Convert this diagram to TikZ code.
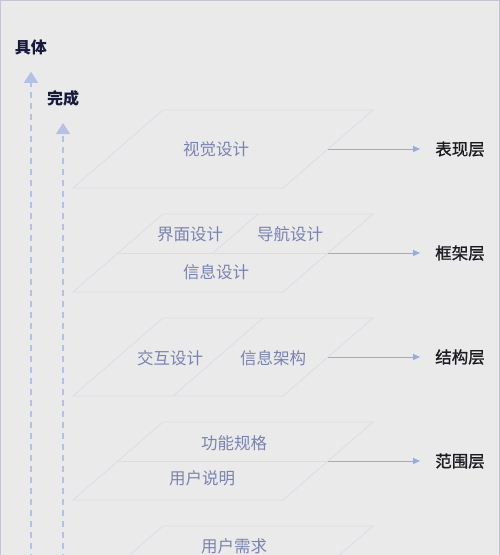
\documentclass[tikz,border=0pt]{standalone}
\usepackage{fontspec}
\newfontfamily\cjk{Noto Sans CJK SC}
\newfontfamily\cjkmid{Noto Sans CJK SC}[FakeBold=0.9]
\usetikzlibrary{arrows.meta,positioning}
\definecolor{bgcol}{RGB}{234,234,235}
\definecolor{framecol}{RGB}{196,196,212}
\definecolor{planecol}{RGB}{216,222,230}
\definecolor{itemcol}{RGB}{122,131,176}
\definecolor{layercol}{RGB}{26,26,32}
\definecolor{axiscol}{RGB}{24,26,60}
\definecolor{flowcol}{RGB}{150,172,218}
\definecolor{risecol}{RGB}{180,192,230}

\begin{document}
\begin{tikzpicture}[x=1pt,y=-1pt,node distance=132pt,on grid,
  every node/.style={font=\cjk\fontsize{16.5}{20}\selectfont,inner sep=0pt},
  plane/.style={draw=planecol,line width=0.8pt},
  item/.style={text=itemcol},
  layer/.style={text=layercol,font=\cjkmid\fontsize{16.5}{20}\selectfont},
  axis/.style={text=axiscol,font=\cjk\bfseries\fontsize{16}{19}\selectfont},
  flow/.style={draw=flowcol,line width=0.8pt,-{Triangle[length=7pt,width=6pt]},shorten >=15pt},
  rise/.style={draw=risecol,line width=1.4pt,dash pattern=on 6pt off 5pt,-{Triangle[length=11pt,width=14pt]},shorten >=17pt}]
\clip (0,0) rectangle (500,555);
\fill[bgcol] (0,0) rectangle (500,555);
\draw[framecol,line width=1pt] (0.5,0.5) rectangle (499.5,570);

% planes
\draw[plane] (163,110) -- (373,110) -- (283,188) -- (73,188) -- cycle;
\draw[plane] (163,214) -- (373,214) -- (283,292) -- (73,292) -- cycle;
\draw[plane] (118,253) -- (328,253);
\draw[plane] (258,214) -- (213,253);
\draw[plane] (163,318) -- (373,318) -- (283,396) -- (73,396) -- cycle;
\draw[plane] (263,318) -- (173,396);
\draw[plane] (163,422) -- (373,422) -- (283,500) -- (73,500) -- cycle;
\draw[plane] (118,461) -- (328,461);
\draw[plane] (163,526) -- (373,526) -- (283,604) -- (73,604) -- cycle;

% items
\node[item] (visual)   at (216,149) {视觉设计};
\node[item] (iface)    at (190,234) {界面设计};
\node[item] (navi)     at (290,234) {导航设计};
\node[item] (infod)    at (216,272) {信息设计};
\node[item] (interact) at (170,358) {交互设计};
\node[item] (infoa)    at (273,358) {信息架构};
\node[item] (funcs)    at (234,443) {功能规格};
\node[item] (userd)    at (202,478) {用户说明};
\node[item] (needs)    at (234,546) {用户需求};

% layers
\coordinate (e1) at (328,149);
\coordinate (e2) at (328,253);
\coordinate (e3) at (328,357);
\coordinate (e4) at (328,461);
\node[layer] (present)   at (460,149) {表现层};
\node[layer] (frame)     at (460,253) {框架层};
\node[layer] (structure) at (460,357) {结构层};
\node[layer] (scope)     at (460,461) {范围层};

\draw[flow] (e1) -- (present.west);
\draw[flow] (e2) -- (frame.west);
\draw[flow] (e3) -- (structure.west);
\draw[flow] (e4) -- (scope.west);

% axes
\node[axis] (concrete) at (31,47) {具体};
\node[axis] (done)     [below right=51pt and 32pt of concrete] {完成};
\coordinate (b1) at (31,560);
\coordinate (b2) at (63,560);
\draw[rise] (b1) -- (concrete);
\draw[rise] (b2) -- (done);
\end{tikzpicture}
\end{document}
